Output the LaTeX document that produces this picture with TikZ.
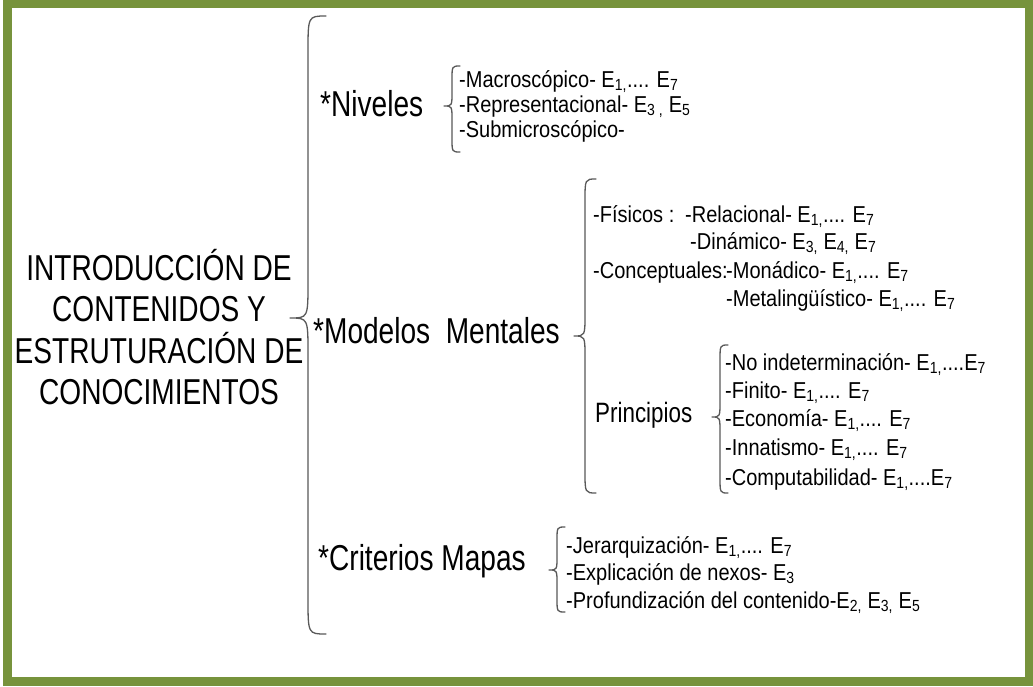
\documentclass[tikz,border=0pt]{standalone}
\usepackage{fontspec}
\setmainfont[FakeStretch=0.87]{Liberation Sans}
\newfontfamily\bigfont[FakeStretch=0.78]{Liberation Sans}
\newfontfamily\midfont[FakeStretch=0.8]{Liberation Sans}
\definecolor{framegreen}{RGB}{119,147,60}
\newcommand{\Es}[1]{E\textsubscript{#1}}
\newcommand{\Erng}{\Es{1,}.... \Es{7}}
% llave izquierda: x, arriba, abajo, punta, ancho, radio
\newcommand{\bracelft}[6]{%
	\draw[curly] (#1+#5,#2) .. controls (#1,#2) .. (#1,#2+#6) -- (#1,#4-#6)
	.. controls (#1,#4) .. (#1-#5,#4) .. controls (#1,#4) .. (#1,#4+#6)
	-- (#1,#3-#6) .. controls (#1,#3) .. (#1+#5,#3);}
\tikzset{
	big/.style={font=\bigfont\fontsize{36}{41.5}\selectfont,inner sep=0pt},
	mid/.style={font=\midfont\fontsize{28}{30}\selectfont,inner sep=0pt,anchor=base west},
	small/.style={font=\fontsize{23}{25}\selectfont,inner sep=0pt,anchor=base west},
	curly/.style={draw=black!65,line width=1.3pt,line cap=round,line join=round}
}
\begin{document}
\begin{tikzpicture}[x=1pt,y=-1pt]
	\useasboundingbox (0,0) rectangle (1033,686);
	% === Marco ===
	\fill[framegreen] (3,0) rectangle (1033,686);
	\fill[white] (12,8) rectangle (1025,677);
	% === Titulo ===
	\node[big,align=center] (root) at (159,327) {INTRODUCCIÓN DE\\CONTENIDOS Y\\ESTRUTURACIÓN DE\\CONOCIMIENTOS};
	\bracelft{308}{16}{634}{318}{18}{36}
	% === Niveles ===
	\node[big,anchor=base west] (niv) at (320,116) {*Niveles};
	\bracelft{452}{66}{152}{106}{8}{14}
	\node[small] (macro) at (459,87) {-Macroscópico- \Erng};
	\node[small] (repre) at (459,112) {-Representacional- \Es{3 ,} \Es{5}};
	\node[small] (submi) at (459,137) {-Submicroscópico-};
	% === Modelos Mentales ===
	\node[big,anchor=base west] (mod) at (313,343) {*Modelos\ \ Mentales};
	\bracelft{585}{179}{493}{336}{11}{22}
	\node[small] (fis) at (593,222) {-Físicos :};
	\node[small] (rel) at (685,222) {-Relacional- \Erng};
	\node[small] (din) at (690,249) {-Dinámico- \Es{3,} \Es{4,} \Es{7}};
	\node[small] (con) at (593,278) {-Conceptuales:};
	\node[small] (mon) at (726,278) {-Monádico- \Erng};
	\node[small] (met) at (726,306) {-Metalingüístico- \Erng};
	\node[mid] (pri) at (595,422) {Principios};
	\bracelft{720}{345}{493}{417}{8}{16}
	\node[small] (noind) at (725,370) {-No indeterminación- \Es{1,}....\Es{7}};
	\node[small] (fin) at (725,398) {-Finito- \Erng};
	\node[small] (eco) at (725,426) {-Economía- \Erng};
	\node[small] (inn) at (725,455) {-Innatismo- \Erng};
	\node[small] (comp) at (725,485) {-Computabilidad- \Es{1,}....\Es{7}};
	% === Criterios Mapas ===
	\node[big,anchor=base west] (cri) at (318,570) {*Criterios Mapas};
	\bracelft{557}{527}{612}{570}{8}{14}
	\node[small] (jer) at (566,553) {-Jerarquización- \Erng};
	\node[small] (expl) at (566,580) {-Explicación de nexos- \Es{3}};
	\node[small] (prof) at (566,608) {-Profundización del contenido-\Es{2,} \Es{3,} \Es{5}};
\end{tikzpicture}
\end{document}
